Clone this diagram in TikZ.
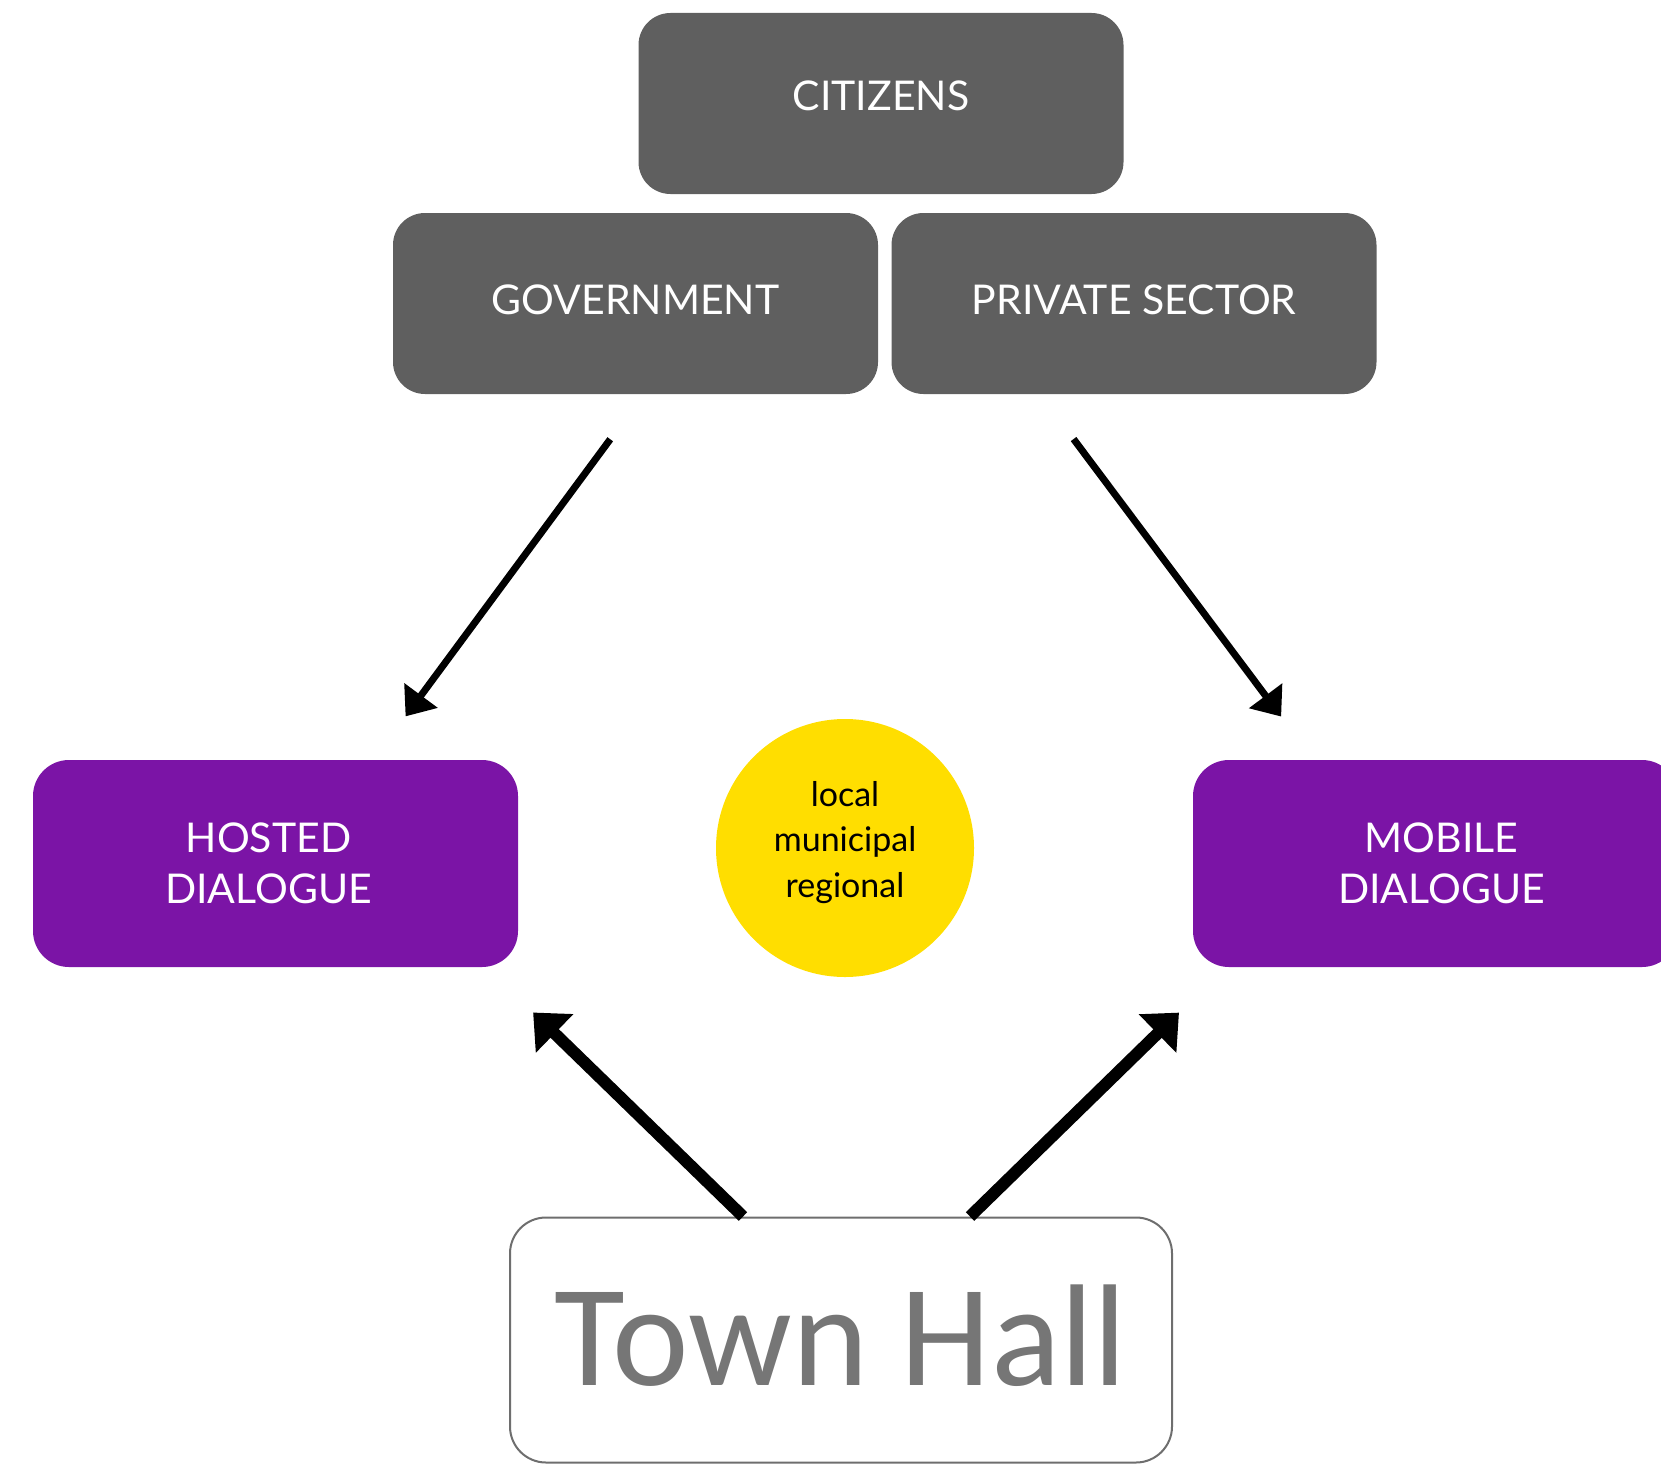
\documentclass[tikz,border=0pt]{standalone}
\usepackage{fontspec}
\setmainfont{Lato}
\newfontfamily\townfont{Carlito}
\usepackage{tikz}
\usetikzlibrary{arrows.meta,shapes}
\definecolor{boxgray}{HTML}{5F5F5F}
\definecolor{dialogue}{HTML}{7B14A6}
\definecolor{scope}{HTML}{FFDE00}
\definecolor{townline}{HTML}{6E6E6E}
\definecolor{towntext}{HTML}{767676}
\tikzset{actor/.style={fill=boxgray,rounded corners=32pt,minimum width=485pt,minimum height=181pt,text=white,font=\fontsize{41}{51}\selectfont}}
\tikzset{mode/.style={fill=dialogue,rounded corners=36pt,minimum width=485pt,minimum height=207pt,text=white,align=center,font=\fontsize{41}{51}\selectfont}}

\begin{document}
\begin{tikzpicture}[x=1pt,y=-1pt,
    thinarrow/.style={line width=7pt,-{Triangle[length=26pt,width=40pt]}},
    thickarrow/.style={line width=12pt,-{Triangle[length=30pt,width=52pt]}}]
        \useasboundingbox (0,0) rectangle (1661,1464);
        \clip (0,0) rectangle (1661,1464);
        \node (citizens) at (881,103.5) [actor,text depth=15pt] {CITIZENS};
        \node (gov) at (635.5,303.5) [actor,text depth=8.5pt] {GOVERNMENT};
        \node (private) at (1134,303.5) [actor,text depth=8.5pt] {PRIVATE SECTOR};
        \node (hosted) at (275.5,863.5) [mode] {HOSTED\hspace*{14pt}\\DIALOGUE\hspace*{14pt}};
        \node (mobile) at (1435.5,863.5) [mode] {\hspace*{12pt}MOBILE\\\hspace*{12pt}DIALOGUE};
        \node (levels) at (845,848) [circle,fill=scope,minimum size=258pt,align=center,text depth=18pt,font=\fontsize{34}{45.5}\selectfont] {local\\municipal\\regional};
        \node (town) at (841,1340) [draw=townline,line width=2pt,fill=white,rounded corners=36pt,minimum width=662pt,minimum height=245pt,text depth=9pt,text=towntext,font=\townfont\fontsize{145}{145}\selectfont] {Town Hall};
        \draw[thinarrow,shorten <=56pt,shorten >=54pt] ([xshift=8pt]gov.south) -- ([xshift=98pt]hosted.north);
        \draw[thinarrow,shorten <=56pt,shorten >=54pt] ([xshift=-94pt]private.south) -- ([xshift=-122pt]mobile.north);
        \draw[thickarrow,shorten >=65pt] ([xshift=-98pt]town.north) -- ([xshift=211pt]hosted.south);
        \draw[thickarrow,shorten >=65pt] ([xshift=129pt]town.north) -- ([xshift=-210pt]mobile.south);
    \end{tikzpicture}
\end{document}
